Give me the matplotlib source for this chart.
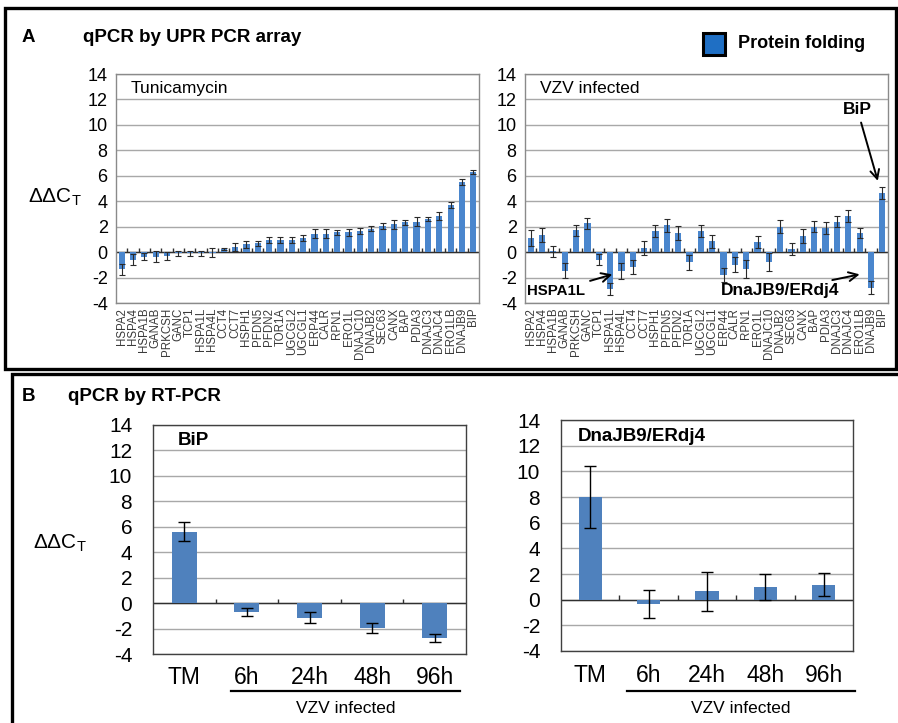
import numpy as np
import matplotlib
matplotlib.use("Agg")
import matplotlib.pyplot as plt
from matplotlib.patches import Rectangle
import matplotlib.transforms as mtransforms

plt.rcParams['font.family'] = ['Liberation Sans', 'DejaVu Sans']
plt.rcParams['mathtext.fontset'] = 'custom'
plt.rcParams['mathtext.rm'] = 'Liberation Sans'

# ---------------- data ----------------
genes = ["HSPA2", "HSPA4", "HSPA1B", "GANAB", "PRKCSH", "GANC", "TCP1", "HSPA1L",
         "HSPA4L", "CCT4", "CCT7", "HSPH1", "PFDN5", "PFDN2", "TOR1A", "UGCGL2",
         "UGCGL1", "ERP44", "CALR", "RPN1", "ERO1L", "DNAJC10", "DNAJB2", "SEC63",
         "CANX", "BAP", "PDIA3", "DNAJC3", "DNAJC4", "ERO1LB", "DNAJB9", "BIP"]

tm_vals = [-1.35, -0.6, -0.35, -0.35, -0.3, -0.1, -0.1, -0.1, -0.05, 0.25, 0.4, 0.6,
           0.7, 0.95, 0.95, 0.95, 1.1, 1.45, 1.45, 1.55, 1.55, 1.65, 1.85, 2.05,
           2.2, 2.35, 2.4, 2.6, 2.85, 3.7, 5.5, 6.3]
tm_err = [0.45, 0.45, 0.3, 0.4, 0.3, 0.2, 0.2, 0.2, 0.35, 0.1, 0.3, 0.25,
          0.2, 0.25, 0.25, 0.2, 0.25, 0.35, 0.35, 0.2, 0.3, 0.25, 0.2, 0.2,
          0.35, 0.2, 0.35, 0.15, 0.3, 0.25, 0.25, 0.15]

vzv_vals = [1.1, 1.35, 0.05, -1.45, 1.7, 2.25, -0.6, -2.9, -1.5, -1.15, 0.35, 1.65,
            2.1, 1.5, -0.8, 1.65, 0.85, -1.8, -1.0, -1.3, 0.8, -0.75, 2.0, 0.25,
            1.25, 2.0, 1.9, 2.4, 2.85, 1.5, -2.8, 4.65]
vzv_err = [0.6, 0.55, 0.4, 0.6, 0.45, 0.4, 0.45, 0.5, 0.65, 0.55, 0.55, 0.45,
           0.5, 0.55, 0.6, 0.45, 0.5, 0.55, 0.6, 0.7, 0.5, 0.7, 0.5, 0.45,
           0.55, 0.45, 0.45, 0.45, 0.45, 0.4, 0.5, 0.45]

rt_labels = ["TM", "6h", "24h", "48h", "96h"]
bip_vals = [5.6, -0.7, -1.15, -1.95, -2.75]
bip_err = [0.75, 0.35, 0.45, 0.4, 0.3]
dnajb9_vals = [8.0, -0.35, 0.65, 1.0, 1.15]
dnajb9_err = [2.4, 1.1, 1.5, 1.0, 0.9]

yticks = list(range(-4, 15, 2))

W, H = 898, 723
fig = plt.figure(figsize=(W / 100, H / 100), dpi=100)
fig.patch.set_facecolor('white')


def px_axes(x0, y0, x1, y1):
    return fig.add_axes([x0 / W, 1 - y1 / H, (x1 - x0) / W, (y1 - y0) / H])


def ftext(x, y, s, **kw):
    fig.text(x / W, 1 - y / H, s, **kw)


def style_axes(ax, n, spine_col, tick_fs, pad):
    ax.set_xlim(-0.5, n - 0.5)
    ax.set_ylim(-4, 14)
    ax.set_yticks(yticks)
    ax.set_yticklabels([str(t) for t in yticks], fontsize=tick_fs)
    ax.yaxis.grid(True, color='#a8a8a8', linewidth=1.0)
    ax.set_axisbelow(True)
    ax.axhline(0, color='#303030', linewidth=1.0, zorder=1.5)
    for sp in ax.spines.values():
        sp.set_color(spine_col)
        sp.set_linewidth(1.0)
    ax.tick_params(axis='y', length=0, pad=pad)
    # category boundary marks on the zero line
    ax.vlines(np.arange(n - 1) + 0.5, 0, 0.35, color='#303030', linewidth=1.0, zorder=1.6)


# ---------------- panel A ----------------
def gene_panel(ax, vals, errs, label):
    x = np.arange(len(genes))
    ax.bar(x, vals, width=0.55, color='#4a86cd', zorder=2,
           yerr=errs, error_kw=dict(ecolor='#2a2a2a', elinewidth=0.8, capsize=2.2, capthick=0.8))
    style_axes(ax, len(genes), '#8a8a8a', 13, 6)
    ax.set_xticks(x)
    ax.set_xticklabels(genes, rotation=90, fontsize=8.3, color='#3a3a3a')
    ax.tick_params(axis='x', length=0, pad=3.5)
    ax.text(0.04, 0.935, label, transform=ax.transAxes, fontsize=12.5, va='center')


axA1 = px_axes(116, 74, 479, 303)
gene_panel(axA1, tm_vals, tm_err, "Tunicamycin")
axA2 = px_axes(525, 74, 888, 303)
gene_panel(axA2, vzv_vals, vzv_err, "VZV infected")

arrow = dict(arrowstyle='->', color='black', lw=1.4, mutation_scale=16, shrinkA=2, shrinkB=0)
axA2.annotate("BiP", xy=(30.6, 5.6), xytext=(28.8, 11.2), fontsize=12.5, fontweight='bold',
              ha='center', va='center', arrowprops=arrow)
axA2.annotate("HSPA1L", xy=(7.2, -1.75), xytext=(2.2, -3.05), fontsize=10.8, fontweight='bold',
              ha='center', va='center', arrowprops=arrow)
axA2.annotate("DnaJB9/ERdj4", xy=(29.0, -1.75), xytext=(22.0, -3.05), fontsize=12.5,
              fontweight='bold', ha='center', va='center', arrowprops=arrow)

ftext(22, 38, "A", fontsize=13.5, fontweight='bold', va='center')
ftext(83, 38, "qPCR by UPR PCR array", fontsize=13.5, fontweight='bold', va='center')
ftext(28, 197, r"ΔΔC$_\mathregular{T}$", fontsize=15, va='center')

fig.add_artist(Rectangle((703 / W, 1 - 55 / H), 22 / W, 22 / H, transform=fig.transFigure,
                         facecolor='#1f6fc4', edgecolor='black', linewidth=2.2))
ftext(738, 44, "Protein folding", fontsize=13, fontweight='bold', va='center')


# ---------------- panel B ----------------
def rt_panel(ax, vals, errs, label, tag_x, line_x, line_y):
    x = np.arange(len(rt_labels))
    ax.bar(x, vals, width=0.4, color='#4f81bd', zorder=2,
           yerr=errs, error_kw=dict(ecolor='black', elinewidth=1.0, capsize=4, capthick=1.0))
    style_axes(ax, len(rt_labels), '#404040', 15, 15)
    ax.set_xticks(x)
    ax.set_xticklabels(rt_labels, fontsize=16.5)
    ax.tick_params(axis='x', length=0, pad=9)
    ax.text(tag_x, 12.75, label, fontsize=13.5, fontweight='bold', va='center')
    trans = mtransforms.blended_transform_factory(ax.transData, ax.transAxes)
    ax.plot(line_x, [line_y, line_y], color='black', linewidth=1.6, transform=trans, clip_on=False)
    ax.text(np.mean(line_x), line_y - 0.075, "VZV infected", transform=trans, fontsize=12.5,
            ha='center', va='center')


axB1 = px_axes(153, 425, 466, 654)
rt_panel(axB1, bip_vals, bip_err, "BiP", -0.1, [0.75, 4.4], -0.162)
axB2 = px_axes(561, 420, 853, 651)
rt_panel(axB2, dnajb9_vals, dnajb9_err, "DnaJB9/ERdj4", -0.21, [0.63, 4.53], -0.173)

ftext(22, 396, "B", fontsize=13.5, fontweight='bold', va='center')
ftext(68, 396, "qPCR by RT-PCR", fontsize=13.5, fontweight='bold', va='center')
ftext(33, 543, r"ΔΔC$_\mathregular{T}$", fontsize=15, va='center')

# panel frames
fig.add_artist(Rectangle((5 / W, 1 - 369 / H), 891 / W, 361 / H, transform=fig.transFigure,
                         fill=False, edgecolor='black', linewidth=2.4))
fig.add_artist(Rectangle((12 / W, 1 - 740 / H), 900 / W, 366 / H, transform=fig.transFigure,
                         fill=False, edgecolor='black', linewidth=2.4, clip_on=False))

fig.savefig("out.png", dpi=100)
